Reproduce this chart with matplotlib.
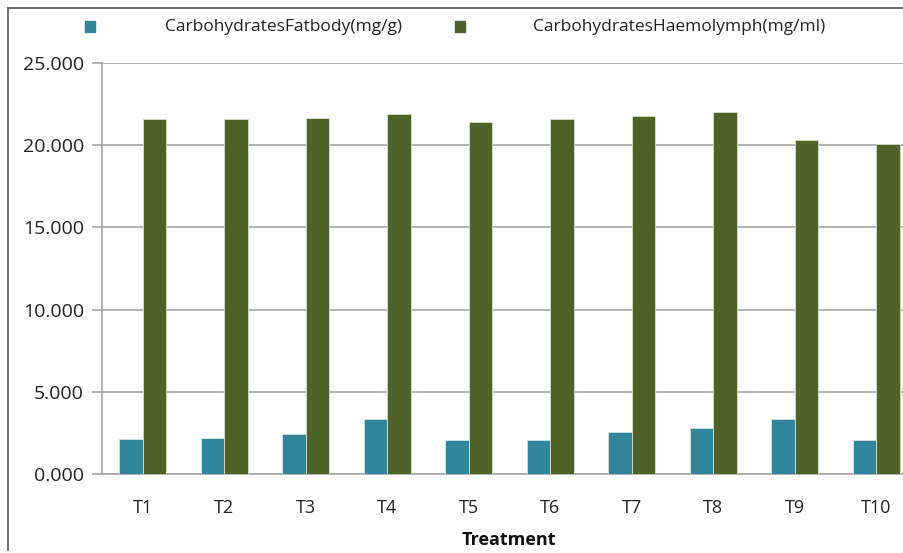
import numpy as np
import matplotlib.pyplot as plt
from matplotlib.patches import Rectangle
from matplotlib.lines import Line2D

plt.rcParams['font.family'] = ['Open Sans', 'DejaVu Sans']

treatments = ['T1', 'T2', 'T3', 'T4', 'T5', 'T6', 'T7', 'T8', 'T9', 'T10']
fatbody = [2.13, 2.21, 2.44, 3.33, 2.05, 2.05, 2.58, 2.80, 3.33, 2.05]
haemolymph = [21.57, 21.57, 21.63, 21.87, 21.40, 21.57, 21.79, 21.99, 20.30, 20.08]
series_names = ['CarbohydratesFatbody(mg/g)', 'CarbohydratesHaemolymph(mg/ml)']
colors = ['#31859C', '#4F6228']

W, H = 904, 553
fig = plt.figure(figsize=(W / 100, H / 100), dpi=100)
# plot area runs past the right edge, like the cropped original
ax = fig.add_axes([102 / W, 79 / H, 815 / W, 411 / H])

x = np.arange(len(treatments))
bw = 1 / 3.5
ax.bar(x - bw / 2, fatbody, bw, color=colors[0], edgecolor='#d8e4e8', linewidth=0.6, zorder=3)
ax.bar(x + bw / 2, haemolymph, bw, color=colors[1], edgecolor='#d9dfcf', linewidth=0.6, zorder=3)

ax.set_xlim(-0.5, len(treatments) - 0.5)
ax.set_ylim(0, 25)
ax.set_yticks([0, 5, 10, 15, 20, 25])
ax.set_yticklabels(['%.3f' % v for v in ax.get_yticks()])
ax.set_xticks(x)
ax.set_xticklabels(treatments)
ax.yaxis.grid(True, color='#a6a6a6', linewidth=1.2, zorder=0)
ax.set_axisbelow(True)

for s in ['top', 'right']:
    ax.spines[s].set_visible(False)
ax.spines['left'].set_color('#a6a6a6')
ax.spines['bottom'].set_color('#a6a6a6')
ax.spines['left'].set_linewidth(1.2)
ax.spines['bottom'].set_linewidth(1.2)
ax.tick_params(axis='y', length=7, color='#a6a6a6', width=1.2, labelsize=14, pad=6, labelcolor='#222222')
ax.tick_params(axis='x', length=0, labelsize=13, pad=18, labelcolor='#222222')
fig.text(509 / W, 1 - 540 / H, 'Treatment', fontsize=13, fontweight='bold',
         ha='center', va='center', color='#111111')

# legend
for i, (name, c) in enumerate(zip(series_names, colors)):
    mx = [85, 455][i]
    tx = [165, 533][i]
    fig.add_artist(Rectangle((mx / W, 1 - 32 / H), 10 / W, 11 / H, color=c, transform=fig.transFigure))
    fig.text(tx / W, 1 - 27 / H, name, fontsize=12.5, va='center', ha='left', color='#222222')

# outer chart border
fig.add_artist(Line2D([8 / W, 1], [1 - 8 / H, 1 - 8 / H], color='#555555', linewidth=1.2))
fig.add_artist(Line2D([8 / W, 8 / W], [1 - 8 / H, 1 - 550 / H], color='#555555', linewidth=1.2))

fig.savefig('out.png', dpi=100)
